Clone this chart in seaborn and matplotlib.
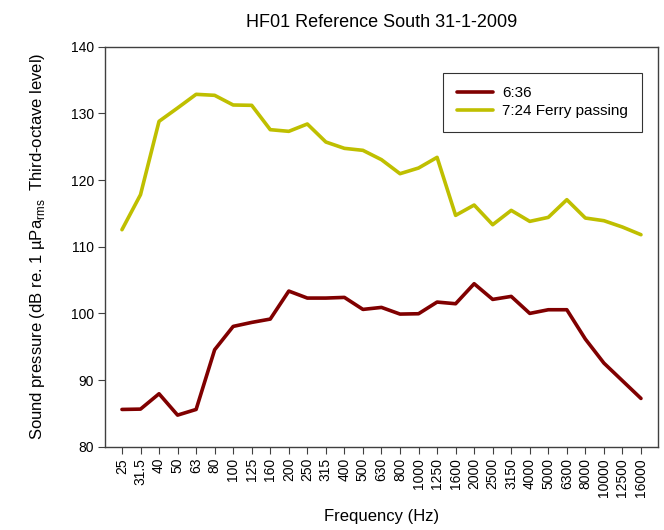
import numpy as np
import pandas as pd
import matplotlib
matplotlib.use("Agg")
import matplotlib.pyplot as plt
import seaborn as sns

# Third-octave band centre frequencies (Hz)
freqs = ["25", "31.5", "40", "50", "63", "80", "100", "125", "160", "200",
         "250", "315", "400", "500", "630", "800", "1000", "1250", "1600",
         "2000", "2500", "3150", "4000", "5000", "6300", "8000", "10000",
         "12500", "16000"]

# Levels (dB re 1 uPa rms)
level_0636 = [85.6, 85.65, 87.95, 84.75, 85.6, 94.55, 98.05, 98.65, 99.15, 103.35,
              102.3, 102.3, 102.4, 100.6, 100.9, 99.9, 99.95, 101.7, 101.45,
              104.45, 102.1, 102.55, 100.0, 100.55, 100.55, 96.15, 92.55,
              89.9, 87.25]
level_0724 = [112.55, 117.8, 128.8, 130.8, 132.85, 132.7, 131.25, 131.2, 127.55, 127.3,
              128.4, 125.7, 124.75, 124.45, 123.05, 120.95, 121.8, 123.4, 114.7,
              116.25, 113.3, 115.45, 113.8, 114.4, 117.05, 114.3, 113.9,
              112.95, 111.8]

series_names = ["6:36", "7:24 Ferry passing"]
colors = ["#800000", "#bfbf00"]

df = pd.DataFrame({
    "pos": list(range(len(freqs))) * 2,
    "level": level_0636 + level_0724,
    "series": [series_names[0]] * len(freqs) + [series_names[1]] * len(freqs),
})

sns.set_style("white")
plt.rcParams["font.family"] = ["Liberation Sans", "DejaVu Sans"]
plt.rcParams["mathtext.fontset"] = "custom"
plt.rcParams["mathtext.rm"] = "Liberation Sans"
for key in ["text.color", "axes.labelcolor", "xtick.color", "ytick.color"]:
    plt.rcParams[key] = "black"

fig = plt.figure(figsize=(6.64, 5.30), dpi=100)
ax = fig.add_axes([0.158, 0.157, 0.833, 0.755])

sns.lineplot(data=df, x="pos", y="level", hue="series", palette=colors,
             linewidth=2.6, ax=ax)

ax.set_xlim(-0.92, len(freqs) - 1 + 0.92)
ax.set_ylim(80, 140)
ax.set_yticks(np.arange(80, 141, 10))
ax.set_xticks(range(len(freqs)))
ax.set_xticklabels(freqs, rotation=90, fontsize=10)
ax.tick_params(axis="y", labelsize=10)
ax.tick_params(axis="both", direction="out", length=5, width=0.8,
               color="#404040", bottom=True, left=True, pad=3)

for sp in ax.spines.values():
    sp.set_color("#404040")
    sp.set_linewidth(1.0)
    sp.set_visible(True)

ax.set_title("HF01 Reference South 31-1-2009", fontsize=13, pad=14)
ax.set_xlabel("Frequency (Hz)", fontsize=12, labelpad=9)
ax.set_ylabel(r"Sound pressure (dB re. 1 µPa$_{\mathrm{rms}}$  Third-octave level)",
              fontsize=12, labelpad=17)

leg = ax.legend(loc="upper right", bbox_to_anchor=(0.971, 0.935), borderaxespad=0,
                fontsize=11, frameon=True, fancybox=False, edgecolor="black",
                handlelength=2.4, borderpad=0.9, labelspacing=0.25,
                handletextpad=0.6)
leg.get_frame().set_linewidth(0.8)
leg.set_title(None)

fig.savefig("out.png", dpi=100)
